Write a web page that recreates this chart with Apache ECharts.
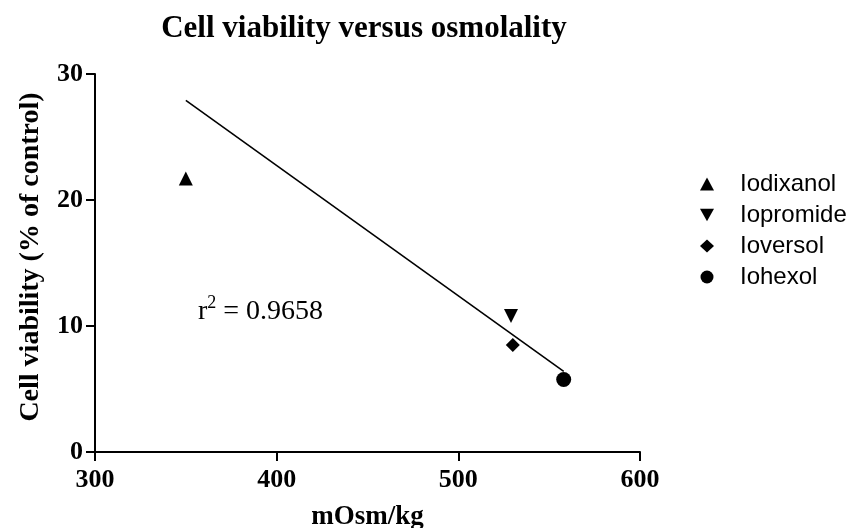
<!DOCTYPE html>
<html>
<head>
<meta charset="utf-8">
<script src="https://cdn.jsdelivr.net/npm/echarts@6/dist/echarts.min.js"></script>
<style>
  html, body { margin: 0; padding: 0; background: #fff; }
  #chart { width: 861px; height: 528px; }
</style>
</head>
<body>
<div id="chart"></div>
<script>
// Contrast media: osmolality (mOsm/kg) against cell viability (% of control)
const compounds = ['Iodixanol', 'Iopromide', 'Ioversol', 'Iohexol'];
const osmolality = [350, 529, 530, 558];
const viability = [21.7, 10.8, 8.5, 5.75];

// Linear fit drawn across the data range
const fitX = [350, 558];
const fitY = [27.9, 6.4];
const rSquared = '0.9658';

// Axis ranges and ticks
const xTicks = [300, 400, 500, 600];
const yTicks = [0, 10, 20, 30];

const markerShapes = {
  Iodixanol: 'triangle',
  Iopromide: 'path://M0,0 L10,0 L5,9 Z',
  Ioversol: 'diamond',
  Iohexol: 'circle'
};
const markerSizes = { Iodixanol: 14, Iopromide: 14, Ioversol: 14, Iohexol: 15 };

const serif = '"Liberation Serif", "Times New Roman", serif';
const sans = '"Liberation Sans", Arial, sans-serif';

const chart = echarts.init(document.getElementById('chart'), null, { renderer: 'canvas' });

const scatterSeries = compounds.map((name, i) => ({
  name: name,
  type: 'scatter',
  symbol: markerShapes[name],
  symbolSize: markerSizes[name],
  itemStyle: { color: '#000', opacity: 1 },
  data: [[osmolality[i], viability[i]]],
  z: 3
}));

const axisCommon = {
  axisLine: { show: true, lineStyle: { color: '#000', width: 2 } },
  axisTick: { show: true, inside: false, length: 9, lineStyle: { color: '#000', width: 2 } },
  splitLine: { show: false },
  axisLabel: {
    color: '#000', fontFamily: serif, fontWeight: 'bold', fontSize: 26, margin: 12
  },
  nameTextStyle: { color: '#000', fontFamily: serif, fontWeight: 'bold', fontSize: 27 }
};

chart.setOption({
  animation: false,
  backgroundColor: '#fff',
  grid: { left: 95, right: 221, top: 74, bottom: 76, containLabel: false, outerBoundsMode: 'none' },
  xAxis: Object.assign({}, axisCommon, {
    type: 'value',
    min: xTicks[0],
    max: xTicks[xTicks.length - 1],
    interval: xTicks[1] - xTicks[0],
    name: 'mOsm/kg',
    nameLocation: 'middle',
    nameGap: 52,
    axisLabel: Object.assign({}, axisCommon.axisLabel, { margin: 15 })
  }),
  yAxis: Object.assign({}, axisCommon, {
    type: 'value',
    min: yTicks[0],
    max: yTicks[yTicks.length - 1],
    interval: yTicks[1] - yTicks[0],
    name: 'Cell viability (% of control)',
    nameLocation: 'middle',
    nameGap: 50,
    nameTextStyle: Object.assign({}, axisCommon.nameTextStyle, { fontSize: 28, padding: [0, 0, 0, 12] })
  }),
  legend: {
    data: compounds,
    orient: 'vertical',
    left: 695,
    top: 167,
    itemWidth: 14,
    itemHeight: 13,
    itemGap: 7,
    itemStyle: { color: '#000', opacity: 1 },
    textStyle: { color: '#000', fontFamily: sans, fontSize: 24, lineHeight: 24, padding: [0, 0, 0, 21] }
  },
  graphic: [
    {
      type: 'text',
      x: 364,
      y: 13,
      style: {
        text: 'Cell viability versus osmolality',
        fill: '#000',
        font: 'bold 31px ' + serif,
        textAlign: 'center',
        textVerticalAlign: 'top'
      }
    },
    {
      type: 'text',
      x: 198,
      y: 294,
      style: {
        text: '{r|r}{s|2}{r| = ' + rSquared + '}',
        textVerticalAlign: 'top',
        rich: {
          r: { fontFamily: serif, fontSize: 28, fill: '#000', lineHeight: 32, verticalAlign: 'bottom' },
          s: { fontFamily: serif, fontSize: 18, fill: '#000', lineHeight: 32, verticalAlign: 'top' }
        }
      }
    }
  ],
  series: [
    {
      name: 'fit',
      type: 'line',
      data: fitX.map((x, i) => [x, fitY[i]]),
      symbol: 'none',
      lineStyle: { color: '#000', width: 1.6 },
      z: 2,
      silent: true
    }
  ].concat(scatterSeries)
});
</script>
</body>
</html>
